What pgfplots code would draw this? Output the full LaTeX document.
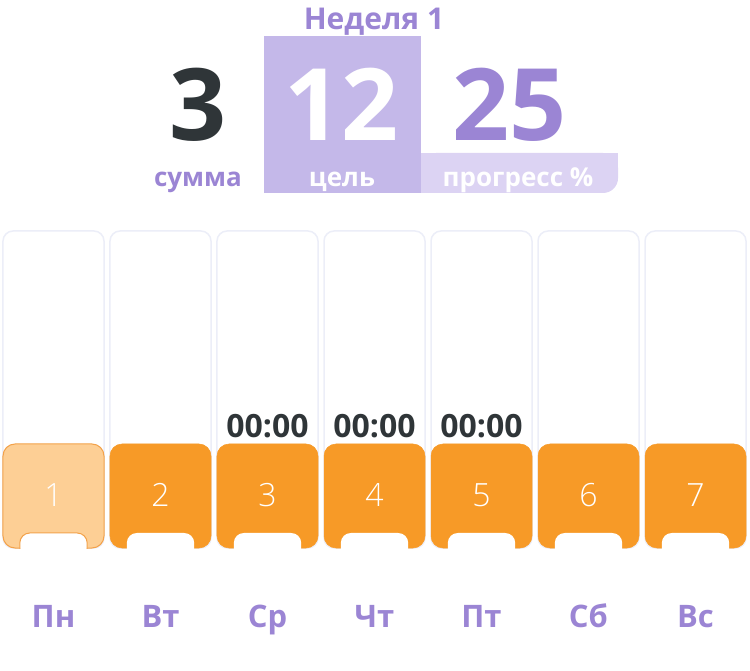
\documentclass[border=0pt]{standalone}
\usepackage{fontspec}
\setmainfont{Open Sans}
\newfontfamily\lightfont{Open Sans Light}
\usepackage{pgfplots}
\pgfplotsset{compat=1.18}
\definecolor{purp}{HTML}{9B85D4}
\definecolor{purpbox}{HTML}{C4B8E9}
\definecolor{purplight}{HTML}{DCD3F3}
\definecolor{darktxt}{HTML}{2F3538}
\definecolor{orng}{HTML}{F79A27}
\definecolor{orngl}{HTML}{FDCF95}
\definecolor{orngb}{HTML}{F3A24A}
\definecolor{colb}{HTML}{ECEEF8}
\begin{document}
\begin{tikzpicture}
\begin{axis}[
  name=A, hide axis, scale only axis, width=750pt, height=670pt,
  xmin=0.5, xmax=7.5093, ymin=-122, ymax=548, clip=false,
]
\path (rel axis cs:0,0) rectangle (rel axis cs:1,1);
% header boxes
\fill[purpbox] (axis cs:2.967,355) rectangle (axis cs:4.435,512);
\fill[purplight, rounded corners=15pt] (axis cs:4.435,355) rectangle (axis cs:6.276,395);
\fill[purplight] (axis cs:4.435,355) rectangle (axis cs:6.0,395);
\fill[purplight] (axis cs:4.435,375) rectangle (axis cs:6.276,395);
\node[anchor=base, font=\bfseries\fontsize{30}{36}\selectfont, text=purp] at (axis cs:3.995,518) {Неделя 1};
\node[anchor=base, font=\bfseries\fontsize{100}{110}\selectfont, text=darktxt] at (axis cs:2.35,407) {3};
\node[anchor=base, font=\bfseries\fontsize{100}{110}\selectfont, text=white] at (axis cs:3.696,407) {12};
\node[anchor=base, font=\bfseries\fontsize{100}{110}\selectfont, text=purp] at (axis cs:5.266,407) {25};
\node[anchor=base, font=\bfseries\fontsize{26}{30}\selectfont, text=purp] at (axis cs:2.35,361) {сумма};
\node[anchor=base, font=\bfseries\fontsize{26}{30}\selectfont, text=white] at (axis cs:3.696,361) {цель};
\node[anchor=base, font=\bfseries\fontsize{26}{30}\selectfont, text=white] at (axis cs:5.341,361) {прогресс \%};
% columns
\addplot[ybar, bar width=0.944, bar shift=0pt, fill=white, draw=colb, line width=1.5pt, rounded corners=10pt]
  coordinates {(1,317) (2,317) (3,317) (4,317) (5,317) (6,317) (7,317)};
% bars
\addplot[ybar, bar width=0.944, bar shift=0pt, fill=orngl, draw=orngb, line width=1pt, rounded corners=12pt]
  coordinates {(1,104)};
\addplot[ybar, bar width=0.944, bar shift=0pt, fill=orng, draw=orng, line width=0.5pt, rounded corners=12pt]
  coordinates {(2,104) (3,104) (4,104) (5,104) (6,104) (7,104)};
% numbers in bars
\addplot[draw=none, mark=none, nodes near coords, point meta=explicit symbolic,
  every node near coord/.append style={anchor=base, font=\lightfont\fontsize{32}{36}\selectfont, text=white, inner sep=0pt}]
  coordinates {(1,41)[1] (2,41)[2] (3,41)[3] (4,41)[4] (5,41)[5] (6,41)[6] (7,41)[7]};
% times above
\addplot[draw=none, mark=none, nodes near coords, point meta=explicit symbolic,
  every node near coord/.append style={anchor=base, font=\bfseries\fontsize{32}{36}\selectfont, text=darktxt, inner sep=0pt}]
  coordinates {(3,110)[00:00] (4,110)[00:00] (5,110)[00:00]};
% day labels
\addplot[draw=none, mark=none, nodes near coords, point meta=explicit symbolic,
  every node near coord/.append style={anchor=base, font=\bfseries\fontsize{31}{36}\selectfont, text=purp, inner sep=0pt}]
  coordinates {(1,-79)[Пн] (2,-79)[Вт] (3,-79)[Ср] (4,-79)[Чт] (5,-79)[Пт] (6,-79)[Сб] (7,-79)[Вс]};
\end{axis}
% notches: bars from 10 below the bar bottom, clipped at the bar bottom
\begin{scope}
\clip (0pt,122pt) rectangle (750pt,670pt);
\begin{axis}[
  hide axis, scale only axis, width=750pt, height=670pt, at={(0pt,0pt)}, anchor=south west,
  xmin=0.5, xmax=7.5093, ymin=-112, ymax=558, clip=false,
]
\addplot[ybar, bar width=0.63, bar shift=0pt, fill=white, draw=orngb, line width=1pt, rounded corners=10pt]
  coordinates {(1,25)};
\addplot[ybar, bar width=0.63, bar shift=0pt, fill=white, draw=none, rounded corners=10pt]
  coordinates {(2,25) (3,25) (4,25) (5,25) (6,25) (7,25)};
\end{axis}
\end{scope}
\end{tikzpicture}
\end{document}
